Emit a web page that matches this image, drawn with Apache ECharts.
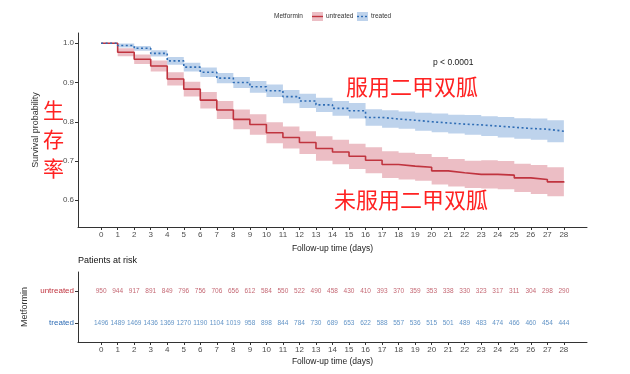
<!DOCTYPE html>
<html><head><meta charset="utf-8">
<script src="https://cdn.jsdelivr.net/npm/echarts@6/dist/echarts.min.js"></script>
<style>html,body{margin:0;padding:0;background:#fff}#c{width:630px;height:374px}</style>
</head><body><div id="c"></div>
<script>
var days = [0,1,2,3,4,5,6,7,8,9,10,11,12,13,14,15,16,17,18,19,20,21,22,23,24,25,26,27,28];
var untreatedSurv = [1.0,0.977,0.959,0.942,0.909,0.883,0.855,0.830,0.806,0.793,0.772,0.760,0.747,0.732,0.723,0.712,0.702,0.691,0.687,0.684,0.675,0.670,0.666,0.666,0.664,0.657,0.653,0.647,0.645];
var untreatedUpper = [1.0,0.987,0.971,0.956,0.926,0.902,0.876,0.853,0.831,0.819,0.799,0.788,0.776,0.763,0.754,0.744,0.735,0.725,0.721,0.718,0.710,0.705,0.701,0.702,0.700,0.693,0.690,0.684,0.682];
var untreatedLower = [0.998,0.967,0.947,0.928,0.892,0.864,0.834,0.807,0.781,0.767,0.745,0.732,0.718,0.701,0.692,0.680,0.669,0.657,0.653,0.650,0.640,0.635,0.631,0.630,0.628,0.621,0.616,0.610,0.608];
var treatedSurv = [1.0,0.994,0.987,0.974,0.955,0.939,0.926,0.911,0.900,0.889,0.879,0.864,0.853,0.843,0.834,0.828,0.811,0.807,0.804,0.800,0.797,0.794,0.792,0.789,0.786,0.783,0.781,0.776,0.776];
var treatedUpper = [1.0,0.999,0.993,0.982,0.965,0.950,0.938,0.924,0.914,0.904,0.895,0.881,0.871,0.861,0.853,0.848,0.832,0.829,0.826,0.823,0.821,0.818,0.817,0.814,0.812,0.809,0.808,0.804,0.804];
var treatedLower = [0.998,0.989,0.981,0.966,0.945,0.928,0.914,0.898,0.886,0.874,0.863,0.847,0.835,0.825,0.815,0.808,0.790,0.785,0.782,0.777,0.773,0.770,0.767,0.764,0.760,0.757,0.754,0.748,0.748];
var untreatedRisk = [950,944,917,891,849,796,756,706,656,612,584,550,522,490,458,430,410,393,370,359,353,338,330,323,317,311,304,298,290];
var treatedRisk = [1496,1489,1469,1436,1369,1270,1190,1104,1019,958,898,844,784,730,689,653,622,588,557,536,515,501,489,483,474,466,460,454,444];
var yTicks = [0.6,0.7,0.8,0.9,1.0];

var RED = '#c0343f', BLUE = '#2f6db5';
var RED_BAND = 'rgba(200,70,90,0.35)', BLUE_BAND = 'rgba(70,130,200,0.35)';
var FONT = '"Liberation Sans", Arial, sans-serif';
var CJK = '"Noto Sans CJK SC", sans-serif';

function pairs(arr){ return days.map(function(d,i){ return [d, arr[i]]; }); }

function bandSeries(upper, lower, color){
  return {
    type:'custom', xAxisIndex:0, yAxisIndex:0, silent:true, z:2,
    data:[[0, lower[0], upper[0]]],
    renderItem:function(params, api){
      var top = [], bot = [];
      for (var i = 0; i < days.length; i++) {
        var x0 = days[i], x1 = i < days.length - 1 ? days[i+1] : days[i];
        top.push(api.coord([x0, upper[i]]));
        top.push(api.coord([x1, upper[i]]));
        bot.push(api.coord([x0, lower[i]]));
        bot.push(api.coord([x1, lower[i]]));
      }
      var pts = top.concat(bot.reverse());
      return {type:'polygon', shape:{points:pts}, style:{fill:color, stroke:null}};
    }
  };
}

var xCommon = {
  type:'value', min:-1.4, max:29.4,
  axisLine:{show:true, onZero:false, lineStyle:{color:'#333', width:1}},
  axisTick:{show:true, length:3, customValues:days, lineStyle:{color:'#333'}},
  axisLabel:{customValues:days, fontSize:8, color:'#4d4d4d', margin:4, fontFamily:FONT},
  splitLine:{show:false},
  name:'Follow-up time (days)', nameLocation:'middle', nameGap:15,
  nameTextStyle:{fontSize:8.5, color:'#222', fontFamily:FONT}
};

var chart = echarts.init(document.getElementById('c'), null, {renderer:'canvas'});
chart.setOption({
  animation:false,
  backgroundColor:'#fff',
  grid:[
    {left:78, right:43, top:33, height:194},
    {left:78, right:43, top:272, height:70}
  ],
  xAxis:[
    Object.assign({gridIndex:0}, xCommon),
    Object.assign({gridIndex:1}, xCommon)
  ],
  yAxis:[
    {gridIndex:0, type:'value', min:0.532, max:1.026,
     axisLine:{show:true, onZero:false, lineStyle:{color:'#333', width:1}},
     axisTick:{show:true, length:3, customValues:yTicks, lineStyle:{color:'#333'}},
     axisLabel:{customValues:yTicks, fontSize:8, color:'#4d4d4d', margin:4, fontFamily:FONT,
       formatter:function(v){ return v.toFixed(1); }},
     splitLine:{show:false},
     name:'Survival probability', nameLocation:'middle', nameGap:38, nameRotate:90,
     nameTextStyle:{fontSize:9, color:'#333', fontFamily:FONT}},
    {gridIndex:1, type:'value', min:0.4, max:2.6,
     axisLine:{show:true, onZero:false, lineStyle:{color:'#333', width:1}},
     axisTick:{show:true, length:3, customValues:[1,2], lineStyle:{color:'#333'}},
     axisLabel:{customValues:[1,2], fontSize:8, margin:4, fontFamily:FONT,
       formatter:function(v){ return v > 1.5 ? '{u|untreated}' : '{t|treated}'; },
       rich:{u:{color:RED, fontSize:8, fontFamily:FONT}, t:{color:BLUE, fontSize:8, fontFamily:FONT}}},
     splitLine:{show:false},
     name:'Metformin', nameLocation:'middle', nameGap:40, nameRotate:90,
     nameTextStyle:{fontSize:9, color:'#333', fontFamily:FONT}}
  ],
  series:[
    bandSeries(untreatedUpper, untreatedLower, RED_BAND),
    bandSeries(treatedUpper, treatedLower, BLUE_BAND),
    {name:'untreated', type:'line', xAxisIndex:0, yAxisIndex:0, step:'end', symbol:'none', data:pairs(untreatedSurv), lineStyle:{color:RED, width:1.6}, z:5},
    {name:'treated', type:'line', xAxisIndex:0, yAxisIndex:0, step:'end', symbol:'none', data:pairs(treatedSurv), lineStyle:{color:BLUE, width:1.6, type:[2,2.5]}, z:5},
    {type:'scatter', xAxisIndex:1, yAxisIndex:1, symbolSize:1, itemStyle:{color:'rgba(0,0,0,0)'},
     data:days.map(function(d,i){ return [d, 2, untreatedRisk[i]]; }),
     label:{show:true, position:'inside', formatter:function(p){ return String(p.value[2]); }, fontSize:6.5, color:'#b5404f', fontFamily:FONT}},
    {type:'scatter', xAxisIndex:1, yAxisIndex:1, symbolSize:1, itemStyle:{color:'rgba(0,0,0,0)'},
     data:days.map(function(d,i){ return [d, 1, treatedRisk[i]]; }),
     label:{show:true, position:'inside', formatter:function(p){ return String(p.value[2]); }, fontSize:6.5, color:'#3a78b8', fontFamily:FONT}}
  ],
  graphic:[
    {type:'text', left:78, top:256, style:{text:'Patients at risk', fontSize:9, fill:'#111', fontFamily:FONT}},
    {type:'text', left:433, top:58, style:{text:'p < 0.0001', fontSize:8.5, fill:'#222', fontFamily:FONT}},
    {type:'text', left:346, top:76, style:{text:'服用二甲双胍', fontSize:22, fill:'#ff2222', fontFamily:CJK}},
    {type:'text', left:334, top:189, style:{text:'未服用二甲双胍', fontSize:22, fill:'#ff2222', fontFamily:CJK}},
    {type:'text', left:43, top:96, style:{text:'生\n存\n率', fontSize:21, lineHeight:29, fill:'#ff2222', fontFamily:CJK}},
    {type:'text', left:274, top:13, style:{text:'Metformin', fontSize:6.5, fill:'#333', fontFamily:FONT}},
    {type:'rect', shape:{x:312, y:12, width:11, height:9}, style:{fill:RED_BAND}},
    {type:'line', shape:{x1:312, y1:16.5, x2:323, y2:16.5}, style:{stroke:RED, lineWidth:1.4}},
    {type:'text', left:326, top:13, style:{text:'untreated', fontSize:6.5, fill:'#333', fontFamily:FONT}},
    {type:'rect', shape:{x:357, y:12, width:11, height:9}, style:{fill:BLUE_BAND}},
    {type:'line', shape:{x1:357, y1:16.5, x2:368, y2:16.5}, style:{stroke:BLUE, lineWidth:1.4, lineDash:[2,2]}},
    {type:'text', left:371, top:13, style:{text:'treated', fontSize:6.5, fill:'#333', fontFamily:FONT}}
  ]
});
</script></body></html>
